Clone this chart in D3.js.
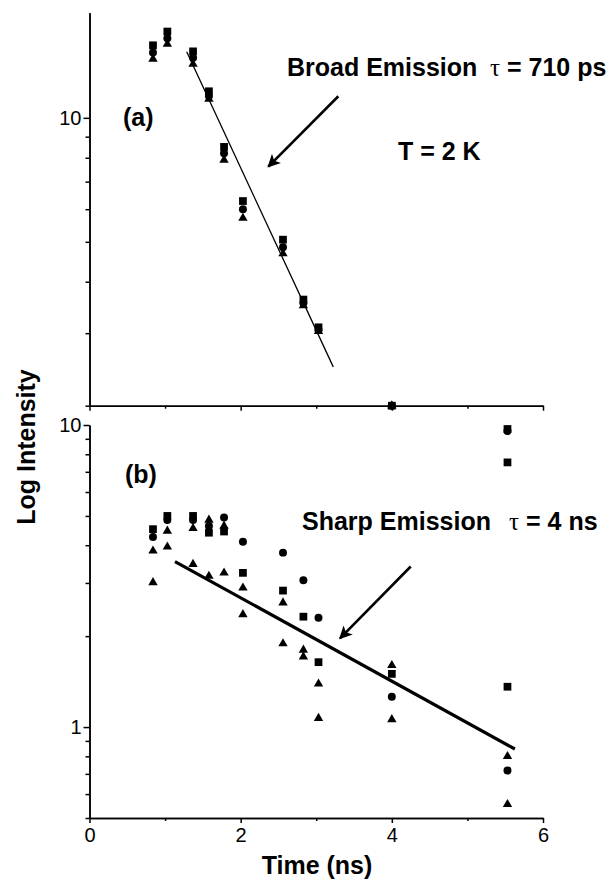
<!DOCTYPE html>
<html>
<head>
<meta charset="utf-8">
<script src="https://cdn.jsdelivr.net/npm/d3@7"></script>
<style>
    body { margin: 0; background: #fff; }
    svg { display: block; }
    .tick text { font-family: "Liberation Sans", Arial, sans-serif; font-size: 20px; fill: #000; }
    .lbl { font-family: "Liberation Sans", Arial, sans-serif; font-size: 25px; font-weight: bold; fill: #000; }
    .tau { font-family: "Liberation Serif", "DejaVu Serif", serif; font-weight: normal; }
</style>
</head>
<body>
<script>
    // panel (a) broad emission
    const timesA = [0.84, 1.03, 1.37, 1.58, 1.78, 2.03, 2.56, 2.83, 3.03, 4.0];
    const sqA = [15.0, 16.2, 14.5, 11.6, 8.5, 6.28, 5.06, 3.62, 3.10, 2.0];
    const ciA = [14.4, 15.6, 14.0, 11.3, 8.2, 6.0, 4.85, 3.55, 3.06, 2.0];
    const trA = [13.9, 15.1, 13.5, 11.1, 7.9, 5.71, 4.68, 3.50, 3.03, 2.0];
    const fitTimesA = [1.286, 3.225];
    const fitA = [14.47, 2.485];

    // panel (b) sharp emission
    const timesB = [0.84, 1.03, 1.37, 1.58, 1.78, 2.03, 2.56, 2.83, 3.03, 4.0, 5.53];
    const sqB = [4.52, 5.0, 5.0, 4.40, 4.44, 3.24, 2.83, 2.32, 1.64, 1.50, 1.36];
    const ciB = [4.26, 4.85, 4.85, 4.63, 4.94, 4.11, 3.78, 3.06, 2.30, 1.26, 0.718];
    const tr1B = [3.83, 4.46, 4.55, 4.85, 4.63, 2.89, 2.58, 1.80, 1.39, 1.60, 0.80];
    const tr2B = [3.01, 3.95, 3.46, 3.16, 3.24, 2.36, 1.89, 1.71, 1.07, 1.06, 0.555];
    const extraTimesB = [5.53, 5.53];
    const extraSqB = [9.7, 7.52];
    const extraCiB = [9.55];
    const fitTimesB = [1.131, 5.628];
    const fitB = [3.53, 0.846];

    // arrows [tail, tip] in data units
    const arrowA = [[3.292, 11.28], [2.366, 7.61]];
    const arrowB = [[4.25, 3.40], [3.314, 1.966]];

    const xTicks = [0, 2, 4, 6];
    const xMinor = [1, 3, 5];
    const yTicksA = [10];
    const yMinorA = [2, 3, 4, 5, 6, 7, 8, 9];
    const yTicksB = [1, 10];
    const yMinorB = [0.5, 0.6, 0.7, 0.8, 0.9, 2, 3, 4, 5, 6, 7, 8, 9];

    const svg = d3.select("body").append("svg")
        .attr("width", 613)
        .attr("height", 882);

    const defs = svg.append("defs");
    defs.append("marker")
        .attr("id", "head")
        .attr("viewBox", "0 0 10 10")
        .attr("refX", 9).attr("refY", 5)
        .attr("markerWidth", 5).attr("markerHeight", 5)
        .attr("markerUnits", "strokeWidth")
        .attr("orient", "auto")
        .append("path")
        .attr("d", "M0,0 L10,5 L0,10 L2.5,5 Z")
        .attr("fill", "#000");

    const x = d3.scaleLinear().domain([0, 6]).range([89.5, 543]);
    const yA = d3.scaleLog().domain([2, 18]).range([405.7, 12.7]);
    const yB = d3.scaleLog().domain([0.5, 10]).range([818, 425]);

    function drawAxes(y, major, minor, showX) {
        const g = svg.append("g");
        g.append("g")
            .attr("transform", "translate(" + x.range()[0] + ",0)")
            .call(d3.axisLeft(y).tickValues(major).tickFormat(d3.format("d")).tickSize(6).tickSizeOuter(0).tickPadding(2));
        g.append("g")
            .attr("transform", "translate(" + x.range()[0] + ",0)")
            .call(d3.axisLeft(y).tickValues(minor).tickFormat("").tickSize(4).tickSizeOuter(0));
        const yb = y.range()[0];
        g.append("g")
            .attr("transform", "translate(0," + yb + ")")
            .call(d3.axisBottom(x).tickValues(xTicks).tickFormat(showX ? d3.format("d") : "").tickSize(5).tickSizeOuter(0).tickPadding(5));
        g.append("g")
            .attr("transform", "translate(0," + yb + ")")
            .call(d3.axisBottom(x).tickValues(xMinor).tickFormat("").tickSize(3).tickSizeOuter(0));
        g.selectAll(".domain, .tick line").attr("stroke", "#000").attr("stroke-width", 1.5);
        g.selectAll("text").attr("fill", "#000");
    }

    drawAxes(yA, yTicksA, yMinorA, false);
    drawAxes(yB, yTicksB, yMinorB, true);

    const shapes = {
        sq: d3.symbol().type(d3.symbolSquare).size(60),
        ci: d3.symbol().type(d3.symbolCircle).size(50),
        tr: d3.symbol().type(d3.symbolTriangle).size(38)
    };

    function drawPoints(times, vals, y, shape) {
        svg.append("g").selectAll("path")
            .data(vals.map((v, i) => [times[i], v]))
            .join("path")
            .attr("d", shapes[shape])
            .attr("transform", d => "translate(" + x(d[0]) + "," + y(d[1]) + ")")
            .attr("fill", "#000");
    }

    drawPoints(timesA, trA, yA, "tr");
    drawPoints(timesA, ciA, yA, "ci");
    drawPoints(timesA, sqA, yA, "sq");

    drawPoints(timesB, tr1B, yB, "tr");
    drawPoints(timesB, tr2B, yB, "tr");
    drawPoints(timesB, ciB, yB, "ci");
    drawPoints(timesB, sqB, yB, "sq");
    drawPoints(extraTimesB, extraCiB, yB, "ci");
    drawPoints(extraTimesB, extraSqB, yB, "sq");

    function drawFit(times, vals, y, w) {
        svg.append("path")
            .datum(vals.map((v, i) => [times[i], v]))
            .attr("d", d3.line().x(d => x(d[0])).y(d => y(d[1])))
            .attr("fill", "none")
            .attr("stroke", "#000")
            .attr("stroke-width", w);
    }
    drawFit(fitTimesA, fitA, yA, 1.3);
    drawFit(fitTimesB, fitB, yB, 3.2);

    function drawArrow(a, y) {
        svg.append("line")
            .attr("x1", x(a[0][0])).attr("y1", y(a[0][1]))
            .attr("x2", x(a[1][0])).attr("y2", y(a[1][1]))
            .attr("stroke", "#000")
            .attr("stroke-width", 2.6)
            .attr("marker-end", "url(#head)");
    }
    drawArrow(arrowA, yA);
    drawArrow(arrowB, yB);

    // labels
    const t1 = svg.append("text").attr("class", "lbl").attr("x", 287).attr("y", 76);
    t1.append("tspan").text("Broad Emission");
    t1.append("tspan").attr("class", "tau").attr("x", 490).text("τ");
    t1.append("tspan").text(" = 710 ps");

    svg.append("text").attr("class", "lbl").attr("x", 398).attr("y", 160).text("T = 2 K");
    svg.append("text").attr("class", "lbl").attr("x", 123).attr("y", 126).text("(a)");
    svg.append("text").attr("class", "lbl").attr("x", 125).attr("y", 483).text("(b)");

    const t2 = svg.append("text").attr("class", "lbl").attr("x", 302).attr("y", 530);
    t2.append("tspan").text("Sharp Emission");
    t2.append("tspan").attr("class", "tau").attr("x", 509).text("τ");
    t2.append("tspan").text(" = 4 ns");

    svg.append("text").attr("class", "lbl")
        .attr("text-anchor", "middle")
        .attr("x", 317).attr("y", 874)
        .text("Time (ns)");

    svg.append("text").attr("class", "lbl")
        .attr("text-anchor", "middle")
        .attr("transform", "translate(35,447) rotate(-90)")
        .text("Log Intensity");
</script>
</body>
</html>
